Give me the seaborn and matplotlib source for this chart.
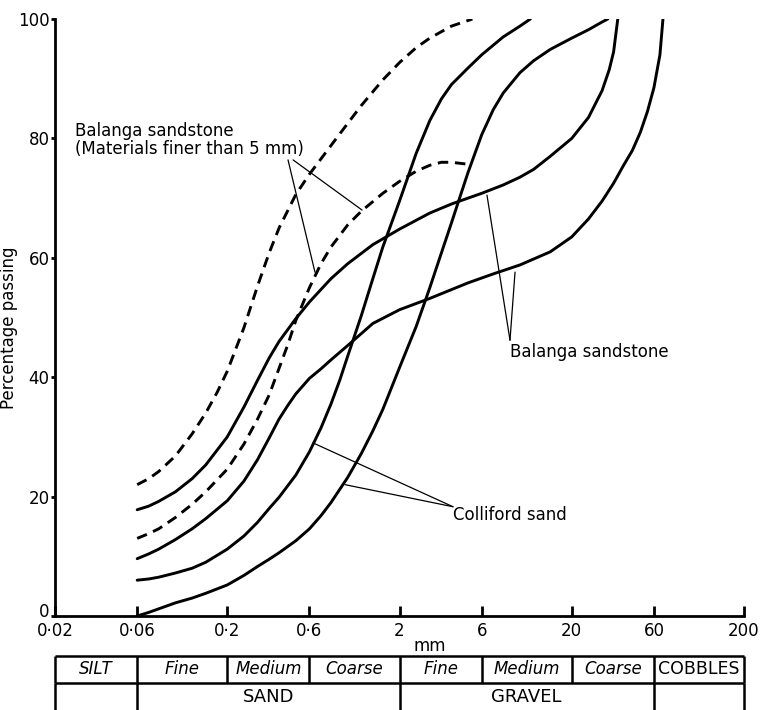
import matplotlib
matplotlib.use("Agg")
import matplotlib.pyplot as plt
import matplotlib.transforms as mtransforms
import seaborn as sns

# ---------------- data (grain size in mm, % passing) ----------------
# Balanga sandstone, materials finer than 5 mm (dashed)
fine_a_mm = [0.06, 0.07, 0.08, 0.1, 0.125, 0.15, 0.175, 0.2, 0.25, 0.3, 0.35, 0.4, 0.5, 0.6, 0.8,
             1.0, 1.2, 1.6, 2.0, 2.5, 3.0, 4.0, 5.3]
fine_a_pct = [22.0, 23.0, 24.2, 26.8, 30.5, 34.0, 37.5, 41.0, 48.3, 55.3, 60.8, 65.0, 70.6, 74.0, 78.8,
              82.5, 85.5, 89.8, 92.7, 95.2, 96.8, 98.8, 100]

fine_b_mm = [0.06, 0.07, 0.08, 0.1, 0.125, 0.15, 0.2, 0.25, 0.3, 0.35, 0.4, 0.45, 0.5, 0.6, 0.7,
             0.8, 1.0, 1.2, 1.6, 2.0, 2.5, 3.0, 3.5, 4.0, 4.9]
fine_b_pct = [13.0, 13.8, 14.6, 16.5, 18.7, 20.8, 24.6, 28.8, 33.0, 37.0, 41.5, 45.5, 49.5, 55.0, 59.0,
              61.8, 65.5, 67.8, 70.8, 72.8, 74.5, 75.5, 76.0, 76.0, 75.7]

# Balanga sandstone (solid)
balanga_a_mm = [0.06, 0.07, 0.08, 0.1, 0.125, 0.15, 0.2, 0.25, 0.3, 0.35, 0.4, 0.5, 0.6, 0.8, 1.0,
                1.4, 2.0, 3.0, 4.0, 5.0, 6.0, 8.0, 10.0, 12.0, 15.0, 20.0, 25.0, 30.0, 33.0, 35.0,
                36.0, 37.0]
balanga_a_pct = [17.8, 18.4, 19.2, 20.8, 23.0, 25.3, 30.0, 35.0, 39.5, 43.2, 46.0, 49.8, 52.6, 56.5, 59.0,
                 62.2, 64.8, 67.5, 69.0, 70.0, 70.8, 72.2, 73.5, 74.8, 77.0, 80.0, 83.5, 88.0, 91.5, 94.5,
                 97.3, 100]

balanga_b_mm = [0.06, 0.07, 0.08, 0.1, 0.125, 0.15, 0.2, 0.25, 0.3, 0.35, 0.4, 0.45, 0.5, 0.6, 0.7,
                0.8, 1.0, 1.4, 2.0, 3.0, 5.0, 7.0, 10.0, 15.0, 20.0, 25.0, 30.0, 35.0, 40.0, 45.0,
                50.0, 55.0, 60.0, 65.0, 67.7]
balanga_b_pct = [9.6, 10.4, 11.2, 12.8, 14.6, 16.3, 19.3, 22.6, 26.2, 29.8, 33.0, 35.3, 37.2, 39.8, 41.4,
                 42.9, 45.3, 49.0, 51.3, 53.2, 55.8, 57.3, 58.8, 61.0, 63.5, 66.5, 69.5, 72.5, 75.5, 78.0,
                 81.0, 84.5, 88.5, 94.0, 100]

# Colliford sand (solid)
colliford_a_mm = [0.06, 0.07, 0.08, 0.1, 0.125, 0.15, 0.2, 0.25, 0.3, 0.35, 0.4, 0.5, 0.6, 0.7, 0.8,
                  0.9, 1.0, 1.2, 1.4, 1.6, 2.0, 2.5, 3.0, 3.5, 4.0, 5.0, 6.0, 8.0, 10.0, 11.5]
colliford_a_pct = [6.0, 6.2, 6.5, 7.2, 8.0, 9.0, 11.2, 13.4, 15.7, 18.0, 19.9, 23.6, 27.5, 31.5, 35.5,
                   39.5, 43.5, 50.3, 56.5, 61.8, 69.5, 77.5, 83.0, 86.6, 89.0, 91.8, 94.0, 97.0, 98.8, 100]

colliford_b_mm = [0.06, 0.07, 0.08, 0.1, 0.125, 0.15, 0.2, 0.25, 0.3, 0.35, 0.4, 0.5, 0.6, 0.7, 0.8,
                  1.0, 1.2, 1.4, 1.6, 2.0, 2.5, 3.0, 3.5, 4.0, 4.5, 5.0, 6.0, 7.0, 8.0, 10.0, 12.0,
                  15.0, 20.0, 25.0, 30.0, 32.4]
colliford_b_pct = [0.0, 0.6, 1.2, 2.2, 3.0, 3.8, 5.2, 6.8, 8.3, 9.5, 10.6, 12.6, 14.6, 16.8, 19.0,
                   23.2, 27.2, 31.0, 34.6, 41.6, 48.5, 55.0, 60.8, 65.8, 70.3, 74.3, 80.6, 84.8, 87.6, 91.0, 93.0,
                   94.9, 96.8, 98.2, 99.5, 100]

x_ticks = [0.02, 0.06, 0.2, 0.6, 2, 6, 20, 60, 200]
x_tick_labels = ["0·02", "0·06", "0·2", "0·6", "2", "6", "20", "60", "200"]
y_ticks = [0, 20, 40, 60, 80, 100]

# classification table
fraction_bounds = [0.02, 0.06, 0.2, 0.6, 2, 6, 20, 60, 200]
fraction_labels = ["SILT", "Fine", "Medium", "Coarse", "Fine", "Medium", "Coarse", "COBBLES"]
group_bounds = [0.02, 0.06, 2, 60, 200]
group_labels = ["", "SAND", "GRAVEL", ""]

# ---------------- figure ----------------
sns.set_style("ticks")
plt.rcParams["font.family"] = ["DejaVu Sans"]
plt.rcParams["text.color"] = "black"
plt.rcParams["axes.labelcolor"] = "black"
plt.rcParams["xtick.color"] = "black"
plt.rcParams["ytick.color"] = "black"

W, H = 761, 710
fig = plt.figure(figsize=(W / 100, H / 100), dpi=100)
ax = fig.add_axes([55 / W, (H - 616) / H, 689 / W, 597 / H])

curves = [
    (fine_a_mm, fine_a_pct, True),
    (fine_b_mm, fine_b_pct, True),
    (balanga_a_mm, balanga_a_pct, False),
    (balanga_b_mm, balanga_b_pct, False),
    (colliford_a_mm, colliford_a_pct, False),
    (colliford_b_mm, colliford_b_pct, False),
]
for xs, ys, dashed in curves:
    sns.lineplot(x=xs, y=ys, ax=ax, color="black", lw=2.1, sort=False, estimator=None,
                 linestyle=(0, (3.6, 2.3)) if dashed else "-", solid_joinstyle="round")

ax.set_xscale("log")
ax.set_xlim(0.02, 200)
ax.set_ylim(0, 100)
ax.set_xticks(x_ticks)
ax.set_xticklabels(x_tick_labels)
ax.xaxis.set_minor_locator(matplotlib.ticker.NullLocator())
ax.set_yticks(y_ticks)
ax.set_yticklabels([str(v) for v in y_ticks])
for s in ["top", "right"]:
    ax.spines[s].set_visible(False)
for s in ["left", "bottom"]:
    ax.spines[s].set_linewidth(2.0)
    ax.spines[s].set_color("black")
ax.tick_params(axis="x", direction="in", length=7, width=2, pad=4, labelsize=12, colors="black")
ax.tick_params(axis="y", direction="out", length=3, width=2, pad=1, labelsize=12, colors="black")
# lift the "0" label slightly so it clears the "0·02" label
zero_lbl = ax.get_yticklabels()[0]
zero_lbl.set_transform(zero_lbl.get_transform() +
                       mtransforms.ScaledTranslation(0, 4 / 72, fig.dpi_scale_trans))
ax.set_xlabel("mm", fontsize=12)
ax.xaxis.set_label_coords(0.544, -0.036)
ax.set_ylabel("Percentage passing", fontsize=12)
ax.yaxis.set_label_coords(-0.054, 0.482)

# annotations
line_kw = dict(arrowstyle="-", lw=0.9, color="black", shrinkA=0, shrinkB=0)
ax.text(0.0261, 79.7, "Balanga sandstone\n(Materials finer than 5 mm)", fontsize=12,
        ha="left", va="center", linespacing=1.0)
ax.annotate("", xy=(0.646, 57.6), xytext=(0.4506, 76.4), arrowprops=line_kw)
ax.annotate("", xy=(1.212, 68.0), xytext=(0.482, 76.4), arrowprops=line_kw)

ax.text(8.76, 44.2, "Balanga sandstone", fontsize=12, ha="left", va="center")
ax.annotate("", xy=(6.44, 70.5), xytext=(8.76, 46.2), arrowprops=line_kw)
ax.annotate("", xy=(9.37, 57.6), xytext=(8.76, 46.2), arrowprops=line_kw)

ax.text(4.09, 16.9, "Colliford sand", fontsize=12, ha="left", va="center")
ax.annotate("", xy=(0.629, 29.0), xytext=(4.09, 18.3), arrowprops=line_kw)
ax.annotate("", xy=(0.966, 22.0), xytext=(4.09, 18.3), arrowprops=line_kw)

# ---------------- classification table ----------------
tax = fig.add_axes([55 / W, 0, 689 / W, 55 / H])
tax.set_xscale("log")
tax.set_xlim(0.02, 200)
tax.set_ylim(0, 55)
tax.axis("off")
tlw = 1.8
tax.hlines([54.2, 27], fraction_bounds[0], fraction_bounds[-1], color="black", lw=tlw, clip_on=False)
tax.vlines(fraction_bounds, 27, 54.2, color="black", lw=tlw, clip_on=False)
tax.vlines(group_bounds, 0, 27, color="black", lw=tlw, clip_on=False)
for i, lab in enumerate(fraction_labels):
    xc = (fraction_bounds[i] * fraction_bounds[i + 1]) ** 0.5
    style = "normal" if lab == "COBBLES" else "italic"
    tax.text(xc, 40.5, lab, ha="center", va="center", fontsize=12.5 if lab == "COBBLES" else 12,
             style=style)
for i, lab in enumerate(group_labels):
    xc = (group_bounds[i] * group_bounds[i + 1]) ** 0.5
    tax.text(xc, 13.5, lab, ha="center", va="center", fontsize=13)

fig.savefig("out.png", dpi=100)
